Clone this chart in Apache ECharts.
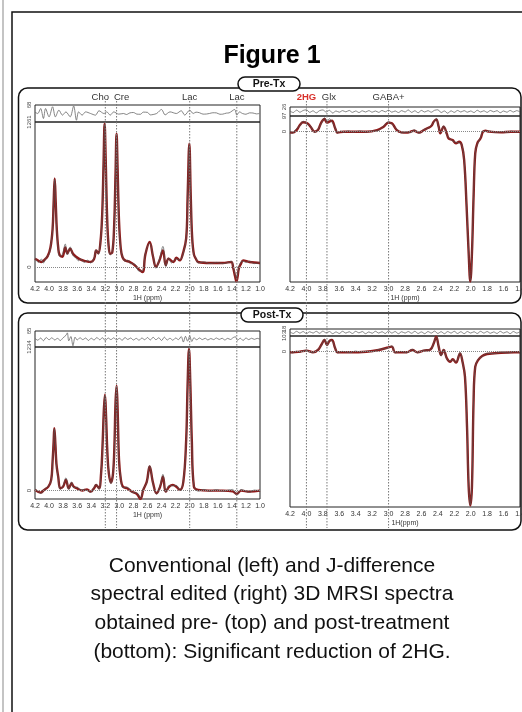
<!DOCTYPE html>
<html>
<head>
<meta charset="utf-8">
<script src="https://cdn.jsdelivr.net/npm/echarts@6/dist/echarts.min.js"></script>
<style>
    html, body { margin: 0; padding: 0; background: #fff; }
    #fig { width: 522px; height: 712px; }
</style>
</head>
<body>
<div id="fig"></div>
<script>
// ---- values: [ppm, amplitude] ----
const preConvFit = [[4.20,72],[4.15,55],[4.11,44],[4.07,60],[4.02,95],[3.98,170],[3.95,330],[3.935,560],[3.92,770],[3.905,560],[3.89,330],[3.87,170],[3.85,105],[3.81,90],[3.77,170],[3.74,120],[3.70,160],[3.66,115],[3.62,92],[3.55,64],[3.48,52],[3.41,45],[3.36,70],[3.33,145],[3.30,120],[3.27,210],[3.245,450],[3.225,900],[3.21,1247],[3.195,950],[3.175,450],[3.155,200],[3.13,115],[3.10,130],[3.075,350],[3.055,800],[3.04,1160],[3.025,850],[3.005,400],[2.98,160],[2.955,85],[2.92,58],[2.85,44],[2.78,15],[2.72,-23],[2.67,-44],[2.63,110],[2.57,218],[2.52,87],[2.48,0],[2.43,58],[2.38,145],[2.34,15],[2.30,72],[2.23,44],[2.19,81],[2.14,58],[2.10,110],[2.05,250],[2.03,600],[2.005,1073],[1.985,620],[1.965,260],[1.94,110],[1.91,70],[1.88,44],[1.71,35],[1.53,35],[1.41,44],[1.38,-10],[1.355,-80],[1.335,-125],[1.32,-90],[1.30,-10],[1.27,30],[1.24,58],[1.15,44],[1.00,35]];
const preConvData = [[4.20,80],[4.15,40],[4.11,70],[4.08,35],[4.04,85],[4.00,110],[3.98,180],[3.95,320],[3.935,570],[3.92,760],[3.905,540],[3.89,320],[3.87,160],[3.85,95],[3.81,110],[3.77,200],[3.74,105],[3.70,175],[3.66,100],[3.62,80],[3.58,55],[3.55,70],[3.50,40],[3.45,60],[3.41,35],[3.36,80],[3.33,150],[3.30,110],[3.27,220],[3.245,440],[3.225,910],[3.21,1240],[3.195,940],[3.175,460],[3.155,190],[3.13,105],[3.10,140],[3.075,340],[3.055,810],[3.04,1150],[3.025,860],[3.005,390],[2.98,150],[2.955,95],[2.92,50],[2.88,60],[2.85,30],[2.78,25],[2.72,-35],[2.67,-30],[2.63,120],[2.57,205],[2.52,95],[2.48,-10],[2.43,70],[2.38,180],[2.34,5],[2.30,80],[2.26,35],[2.23,55],[2.19,70],[2.14,65],[2.10,100],[2.05,260],[2.03,590],[2.005,1060],[1.985,630],[1.965,250],[1.94,100],[1.91,80],[1.88,35],[1.80,45],[1.71,30],[1.62,40],[1.53,30],[1.45,40],[1.41,50],[1.38,0],[1.355,-60],[1.335,-95],[1.32,-70],[1.30,0],[1.27,45],[1.24,50],[1.20,40],[1.15,50],[1.08,30],[1.00,40]];
const preConvResidual = [[4.20,10],[4.16,0],[4.12,40],[4.08,-40],[4.05,40],[4.00,-27],[3.95,54],[3.91,-27],[3.86,27],[3.81,-13],[3.76,13],[3.70,-27],[3.65,60],[3.61,-54],[3.58,13],[3.53,-13],[3.48,13],[3.41,0],[3.34,-13],[3.29,22],[3.22,0],[3.18,13],[3.13,-13],[3.08,13],[3.01,-5],[2.94,0],[2.90,-8],[2.85,5],[2.80,8],[2.75,-5],[2.70,-6],[2.66,11],[2.60,9],[2.56,-11],[2.52,-8],[2.47,0],[2.40,32],[2.35,-11],[2.28,13],[2.19,0],[2.12,22],[2.07,-13],[2.00,27],[1.95,0],[1.91,11],[1.86,6],[1.81,-5],[1.76,-4],[1.72,0],[1.67,6],[1.62,5],[1.57,-6],[1.53,-5],[1.48,3],[1.44,5],[1.36,32],[1.33,-13],[1.29,13],[1.25,0],[1.20,-6],[1.15,5],[1.10,4],[1.05,-3],[1.01,0]];

const preEditFit = [[4.20,-4],[4.17,-6],[4.12,10],[4.08,41],[4.04,58],[3.99,52],[3.95,31],[3.90,0],[3.86,10],[3.82,56],[3.78,78],[3.75,56],[3.72,62],[3.69,68],[3.65,21],[3.62,-6],[3.55,0],[3.43,0],[3.27,0],[3.14,10],[3.06,31],[3.00,56],[2.96,52],[2.90,10],[2.84,-4],[2.78,-6],[2.73,0],[2.69,6],[2.63,-6],[2.57,10],[2.53,21],[2.48,35],[2.45,62],[2.42,76],[2.39,31],[2.37,-10],[2.33,31],[2.29,-14],[2.27,-41],[2.22,-52],[2.18,-72],[2.14,-62],[2.11,-82],[2.08,-175],[2.05,-464],[2.025,-752],[2.005,-927],[1.985,-752],[1.965,-400],[1.945,-134],[1.92,-72],[1.88,-41],[1.85,0],[1.82,6],[1.78,0],[1.63,-4],[1.51,0],[1.40,0]];
const preEditData = [[4.20,0],[4.17,-10],[4.12,20],[4.08,35],[4.04,65],[3.99,45],[3.95,35],[3.90,-5],[3.86,15],[3.82,50],[3.78,85],[3.75,60],[3.72,80],[3.69,60],[3.65,25],[3.62,-10],[3.58,5],[3.55,-5],[3.49,5],[3.43,-3],[3.35,5],[3.27,-3],[3.20,5],[3.14,5],[3.06,35],[3.00,62],[2.96,48],[2.90,15],[2.84,-8],[2.78,-2],[2.73,-6],[2.69,12],[2.63,-10],[2.57,14],[2.53,18],[2.48,40],[2.45,58],[2.42,82],[2.39,25],[2.37,-5],[2.33,36],[2.29,-20],[2.27,-35],[2.22,-58],[2.18,-65],[2.14,-70],[2.11,-78],[2.08,-180],[2.05,-460],[2.025,-750],[2.005,-920],[1.985,-750],[1.965,-395],[1.945,-130],[1.92,-80],[1.88,-35],[1.85,5],[1.82,2],[1.78,5],[1.70,-5],[1.63,0],[1.55,-5],[1.51,4],[1.45,-3],[1.40,2]];
const preEditResidual = [[4.20,2],[4.16,-6],[4.12,8],[4.08,-4],[4.04,6],[4.00,10],[3.96,-5],[3.92,4],[3.88,-8],[3.84,5],[3.80,9],[3.76,-3],[3.72,7],[3.68,-9],[3.64,3],[3.60,-4],[3.56,5],[3.52,-2],[3.48,6],[3.44,-5],[3.40,3],[3.36,-6],[3.32,4],[3.28,-3],[3.24,5],[3.20,-4],[3.16,3],[3.12,-5],[3.08,6],[3.04,-2],[3.00,8],[2.96,-4],[2.92,3],[2.88,-6],[2.84,5],[2.80,-3],[2.76,9],[2.72,-5],[2.68,4],[2.64,-7],[2.60,6],[2.56,-3],[2.52,5],[2.48,-4],[2.44,7],[2.40,10],[2.36,-6],[2.32,3],[2.28,-10],[2.24,4],[2.20,-5],[2.16,6],[2.12,-3],[2.08,5],[2.04,-4],[2.00,3],[1.96,-6],[1.92,7],[1.88,-3],[1.84,4],[1.80,-5],[1.76,6],[1.72,-2],[1.68,5],[1.64,-7],[1.60,3],[1.56,-4],[1.52,6],[1.48,-3],[1.44,5],[1.40,-2]];

const postConvFit = [[4.20,6],[4.12,-17],[4.07,6],[4.01,34],[3.97,92],[3.95,250],[3.935,420],[3.925,537],[3.91,400],[3.895,230],[3.87,120],[3.84,20],[3.80,34],[3.76,92],[3.72,20],[3.68,63],[3.65,34],[3.60,20],[3.53,0],[3.46,11],[3.41,-9],[3.36,20],[3.33,49],[3.29,20],[3.26,149],[3.24,380],[3.22,700],[3.205,824],[3.19,650],[3.17,320],[3.15,149],[3.12,69],[3.09,149],[3.07,400],[3.055,750],[3.04,901],[3.025,700],[3.005,264],[2.98,100],[2.95,34],[2.89,20],[2.82,-9],[2.75,-29],[2.70,-72],[2.66,6],[2.61,77],[2.57,207],[2.52,63],[2.47,-23],[2.42,34],[2.38,120],[2.34,-9],[2.29,34],[2.24,49],[2.19,34],[2.14,6],[2.09,77],[2.05,436],[2.03,900],[2.01,1217],[1.99,900],[1.97,436],[1.94,34],[1.88,6],[1.72,0],[1.53,0],[1.39,-6],[1.33,-29],[1.27,0],[1.15,-9],[1.00,0]];
const postConvData = [[4.20,15],[4.16,-5],[4.12,-25],[4.07,10],[4.01,40],[3.97,85],[3.95,260],[3.935,410],[3.925,530],[3.91,410],[3.895,220],[3.87,110],[3.84,10],[3.80,45],[3.76,110],[3.72,10],[3.68,75],[3.65,25],[3.60,30],[3.56,5],[3.53,10],[3.46,0],[3.41,-15],[3.36,30],[3.33,55],[3.29,10],[3.26,160],[3.24,370],[3.22,710],[3.205,815],[3.19,660],[3.17,310],[3.15,160],[3.12,60],[3.09,155],[3.07,390],[3.055,760],[3.04,895],[3.025,710],[3.005,255],[2.98,110],[2.95,25],[2.89,30],[2.82,-15],[2.75,-20],[2.70,-65],[2.66,15],[2.61,70],[2.57,215],[2.52,55],[2.47,-30],[2.42,45],[2.38,140],[2.34,-15],[2.29,45],[2.24,40],[2.19,45],[2.14,0],[2.09,90],[2.05,430],[2.03,905],[2.01,1210],[1.99,895],[1.97,430],[1.94,45],[1.88,-5],[1.80,10],[1.72,-5],[1.62,8],[1.53,-5],[1.45,5],[1.39,10],[1.33,-40],[1.27,10],[1.20,-5],[1.15,-15],[1.08,5],[1.00,-5]];
const postConvResidual = [[4.20,5],[4.16,-10],[4.12,8],[4.08,-14],[4.04,12],[4.00,-6],[3.96,10],[3.92,-8],[3.88,5],[3.84,-12],[3.80,10],[3.76,30],[3.74,50],[3.72,-15],[3.69,20],[3.66,-55],[3.63,15],[3.60,-8],[3.56,10],[3.52,-5],[3.48,8],[3.44,-12],[3.40,6],[3.36,-8],[3.32,12],[3.28,-6],[3.24,10],[3.20,-14],[3.16,8],[3.12,-5],[3.08,10],[3.04,-8],[3.00,6],[2.96,-10],[2.92,12],[2.88,-4],[2.84,8],[2.80,-8],[2.76,5],[2.72,-10],[2.68,8],[2.64,-6],[2.60,12],[2.56,-8],[2.52,14],[2.48,-6],[2.44,10],[2.40,-12],[2.36,15],[2.32,-8],[2.28,6],[2.24,-10],[2.20,8],[2.16,-5],[2.12,20],[2.09,-25],[2.06,22],[2.03,-18],[2.00,25],[1.97,-20],[1.94,10],[1.90,-6],[1.86,8],[1.82,-5],[1.78,6],[1.74,-8],[1.70,4],[1.66,-5],[1.62,8],[1.58,-4],[1.54,6],[1.50,-8],[1.46,5],[1.42,-4],[1.38,12],[1.35,18],[1.32,-10],[1.28,6],[1.24,-12],[1.20,8],[1.16,-5],[1.12,6],[1.08,-3],[1.04,5],[1.00,-2]];

const postEditFit = [[4.20,-4],[4.17,-4],[4.08,0],[4.00,7],[3.92,-4],[3.86,11],[3.82,44],[3.78,77],[3.75,44],[3.72,70],[3.69,77],[3.65,22],[3.62,-4],[3.47,-4],[3.27,0],[3.12,11],[3.02,26],[2.96,33],[2.92,-4],[2.78,-4],[2.71,11],[2.65,-4],[2.57,7],[2.49,15],[2.45,55],[2.42,99],[2.39,33],[2.36,-22],[2.33,11],[2.29,-44],[2.25,-66],[2.22,-50],[2.18,-72],[2.13,-11],[2.10,-66],[2.07,-164],[2.045,-493],[2.025,-887],[2.005,-1010],[1.985,-887],[1.965,-318],[1.945,-99],[1.91,-55],[1.86,-28],[1.80,-15],[1.63,-7],[1.47,-4],[1.40,-4]];
const postEditData = [[4.20,0],[4.17,-8],[4.12,4],[4.08,-3],[4.04,6],[4.00,10],[3.96,-2],[3.92,-6],[3.86,15],[3.82,40],[3.78,82],[3.75,40],[3.72,75],[3.69,72],[3.65,25],[3.62,-8],[3.56,2],[3.47,-6],[3.40,4],[3.33,-3],[3.27,3],[3.20,0],[3.12,15],[3.02,22],[2.96,38],[2.92,-8],[2.85,2],[2.78,-7],[2.71,15],[2.65,-7],[2.57,10],[2.49,12],[2.45,60],[2.42,95],[2.39,38],[2.36,-28],[2.33,15],[2.29,-50],[2.25,-60],[2.22,-55],[2.18,-68],[2.13,-5],[2.10,-70],[2.07,-160],[2.045,-490],[2.025,-880],[2.005,-1005],[1.985,-880],[1.965,-320],[1.945,-105],[1.91,-50],[1.86,-32],[1.80,-10],[1.72,-12],[1.63,-3],[1.55,-8],[1.47,0],[1.40,-6]];
const postEditResidual = [[4.20,3],[4.16,-5],[4.12,6],[4.08,-3],[4.04,5],[4.00,-6],[3.96,4],[3.92,-3],[3.88,6],[3.84,-4],[3.80,7],[3.76,-2],[3.72,5],[3.68,-6],[3.64,3],[3.60,-5],[3.56,6],[3.52,-3],[3.48,4],[3.44,-5],[3.40,6],[3.36,-2],[3.32,5],[3.28,-6],[3.24,3],[3.20,-4],[3.16,6],[3.12,-3],[3.08,4],[3.04,-5],[3.00,8],[2.96,-3],[2.92,5],[2.88,-6],[2.84,4],[2.80,-3],[2.76,5],[2.72,-4],[2.68,6],[2.64,-5],[2.60,3],[2.56,-6],[2.52,5],[2.48,-3],[2.44,7],[2.40,-5],[2.36,4],[2.32,-6],[2.28,5],[2.24,-3],[2.20,6],[2.16,-5],[2.12,4],[2.08,-6],[2.04,5],[2.00,-3],[1.96,4],[1.92,-5],[1.88,6],[1.84,-3],[1.80,5],[1.76,-4],[1.72,3],[1.68,-5],[1.64,6],[1.60,-3],[1.56,4],[1.52,-6],[1.48,5],[1.44,-3],[1.40,4]];

// axis limits and the labelled values on the y axes
const convPpmRange = [1.0, 4.2];
const editPpmRange = [1.4, 4.2];
const preConvScale = [-130, 1261, 68];
const preEditScale = [-930, 97, 26];
const postConvScale = [-72, 1234, 65];
const postEditScale = [-1020, 103, 18];

// peak markers
const convMarkers = [['Cho', 3.2, -5], ['Cre', 3.04, 5], ['Lac', 2.0, 0], ['Lac', 1.33, 0]];
const editMarkers = [['2HG', 4.0, 0], ['Glx', 3.75, 2], ['GABA+', 3.0, 0]];

const captionLines = [
    'Conventional (left) and J-difference',
    'spectral edited (right) 3D MRSI spectra',
    'obtained pre- (top) and post-treatment',
    '(bottom): Significant reduction of 2HG.'
];

const FONT = 'Liberation Sans, Arial, sans-serif';
const FIT_COLOR = '#8e1b1b';

// layout of every spectrum (residual strip + main box)
const panels = [
    { res: preConvResidual, fit: preConvFit, data: preConvData, ppm: convPpmRange, scale: preConvScale,
      left: 35, width: 225, resTop: 105, resH: 17, top: 122, h: 160, xName: '1H (ppm)' },
    { res: preEditResidual, fit: preEditFit, data: preEditData, ppm: editPpmRange, scale: preEditScale,
      left: 290, width: 230, resTop: 107, resH: 9, top: 116, h: 166, xName: '1H (ppm)' },
    { res: postConvResidual, fit: postConvFit, data: postConvData, ppm: convPpmRange, scale: postConvScale,
      left: 35, width: 225, resTop: 331, resH: 16, top: 347, h: 152, xName: '1H (ppm)' },
    { res: postEditResidual, fit: postEditFit, data: postEditData, ppm: editPpmRange, scale: postEditScale,
      left: 290, width: 230, resTop: 329, resH: 7, top: 336, h: 171, xName: '1H(ppm)' }
];

function plainNumber(v) {
    return String(v);
}

function buildOption() {
    let grid = [], xAxis = [], yAxis = [], series = [];

    panels.forEach(function (p, i) {
        let r = 2 * i, m = 2 * i + 1;
        let border = { show: true, borderColor: '#222', borderWidth: 1, backgroundColor: 'transparent',
                       containLabel: false, outerBoundsMode: 'none' };

        grid.push(Object.assign({ left: p.left, top: p.resTop, width: p.width, height: p.resH }, border));
        grid.push(Object.assign({ left: p.left, top: p.top, width: p.width, height: p.h }, border));

        xAxis.push({
            type: 'value', gridIndex: r, min: p.ppm[0], max: p.ppm[1], inverse: true,
            show: false
        });
        xAxis.push({
            type: 'value', gridIndex: m, min: p.ppm[0], max: p.ppm[1], inverse: true, interval: 0.2,
            axisLine: { show: false }, axisTick: { show: false }, splitLine: { show: false },
            axisLabel: {
                fontSize: 7, margin: 4, color: '#333', fontFamily: FONT,
                showMinLabel: true, showMaxLabel: true,
                formatter: function (v) { return v.toFixed(1); }
            },
            name: p.xName, nameLocation: 'middle', nameGap: 13,
            nameTextStyle: { fontSize: 7, color: '#333', fontFamily: FONT }
        });

        let yCommon = {
            type: 'value', axisLine: { show: false }, axisTick: { show: false }, splitLine: { show: false }
        };
        yAxis.push(Object.assign({
            gridIndex: r, min: -p.scale[2], max: p.scale[2],
            axisLabel: { customValues: [p.scale[2]], rotate: 90, fontSize: 6, margin: 3, color: '#444',
                         fontFamily: FONT, formatter: plainNumber }
        }, yCommon));
        yAxis.push(Object.assign({
            gridIndex: m, min: p.scale[0], max: p.scale[1],
            axisLabel: { customValues: [0, p.scale[1]], rotate: 90, fontSize: 6, margin: 3, color: '#444',
                         fontFamily: FONT, formatter: plainNumber }
        }, yCommon));

        series.push({
            type: 'line', xAxisIndex: r, yAxisIndex: r, data: p.res, showSymbol: false, smooth: 0.3,
            lineStyle: { color: '#666', width: 0.8 }, silent: true
        });
        series.push({
            type: 'line', xAxisIndex: m, yAxisIndex: m, data: p.fit, showSymbol: false, smooth: 0.4,
            lineStyle: { color: FIT_COLOR, width: 2.4 }, silent: true,
            markLine: {
                silent: true, symbol: ['none', 'none'], label: { show: false },
                lineStyle: { color: '#888', type: 'dotted', width: 1 },
                data: [{ yAxis: 0 }]
            }
        });
        series.push({
            type: 'line', xAxisIndex: m, yAxisIndex: m, data: p.data, showSymbol: false, smooth: 0.4,
            lineStyle: { color: '#555', width: 0.7 }, silent: true
        });
    });

    return { animation: false, grid: grid, xAxis: xAxis, yAxis: yAxis, series: series };
}

function staticGraphics() {
    let g = [];
    g.push({ type: 'line', shape: { x1: 3, y1: 0, x2: 3, y2: 712 }, style: { stroke: '#c4c4c4', lineWidth: 2 } });
    g.push({ type: 'rect', shape: { x: 12, y: 12, width: 520, height: 712 }, style: { fill: 'none', stroke: '#111', lineWidth: 1.5 } });
    g.push({ type: 'text', x: 272, y: 56, style: { text: 'Figure 1', font: 'bold 25px ' + FONT, fill: '#000', align: 'center', verticalAlign: 'middle' } });

    g.push({ type: 'rect', shape: { x: 18.5, y: 88, width: 502.5, height: 215, r: 9 }, style: { fill: 'none', stroke: '#111', lineWidth: 1.5 } });
    g.push({ type: 'rect', shape: { x: 18.5, y: 313, width: 502.5, height: 217, r: 9 }, style: { fill: 'none', stroke: '#111', lineWidth: 1.5 } });

    [['Pre-Tx', 269, 84], ['Post-Tx', 272, 315]].forEach(function (t) {
        g.push({ type: 'rect', z: 20, shape: { x: t[1] - 31, y: t[2] - 7, width: 62, height: 14, r: 7 }, style: { fill: '#fff', stroke: '#111', lineWidth: 1.5 } });
        g.push({ type: 'text', z: 21, x: t[1], y: t[2] + 0.5, style: { text: t[0], font: 'bold 10.5px ' + FONT, fill: '#111', align: 'center', verticalAlign: 'middle' } });
    });

    captionLines.forEach(function (line, i) {
        g.push({ type: 'text', x: 272, y: 566 + i * 28.7, style: { text: line, font: '21px ' + FONT, fill: '#111', align: 'center', verticalAlign: 'middle' } });
    });
    return g;
}

function markerGraphics(chart) {
    let g = [];
    [[convMarkers, 1], [editMarkers, 3]].forEach(function (set) {
        set[0].forEach(function (mk) {
            let x = chart.convertToPixel({ xAxisIndex: set[1] }, mk[1]);
            g.push({ type: 'line', z: 5, shape: { x1: x, y1: 101, x2: x, y2: 528 },
                     style: { stroke: '#777', lineWidth: 1, lineDash: [1.5, 1.5] } });
            let red = mk[0] === '2HG';
            g.push({ type: 'text', z: 6, x: x + mk[2], y: 97.5,
                     style: { text: mk[0], font: (red ? 'bold ' : '') + '9.5px ' + FONT,
                              fill: red ? '#d8312b' : '#333', align: 'center', verticalAlign: 'middle' } });
        });
    });
    return g;
}

let chart = echarts.init(document.getElementById('fig'));
chart.setOption(buildOption());
chart.setOption({ graphic: staticGraphics().concat(markerGraphics(chart)) });
</script>
</body>
</html>
